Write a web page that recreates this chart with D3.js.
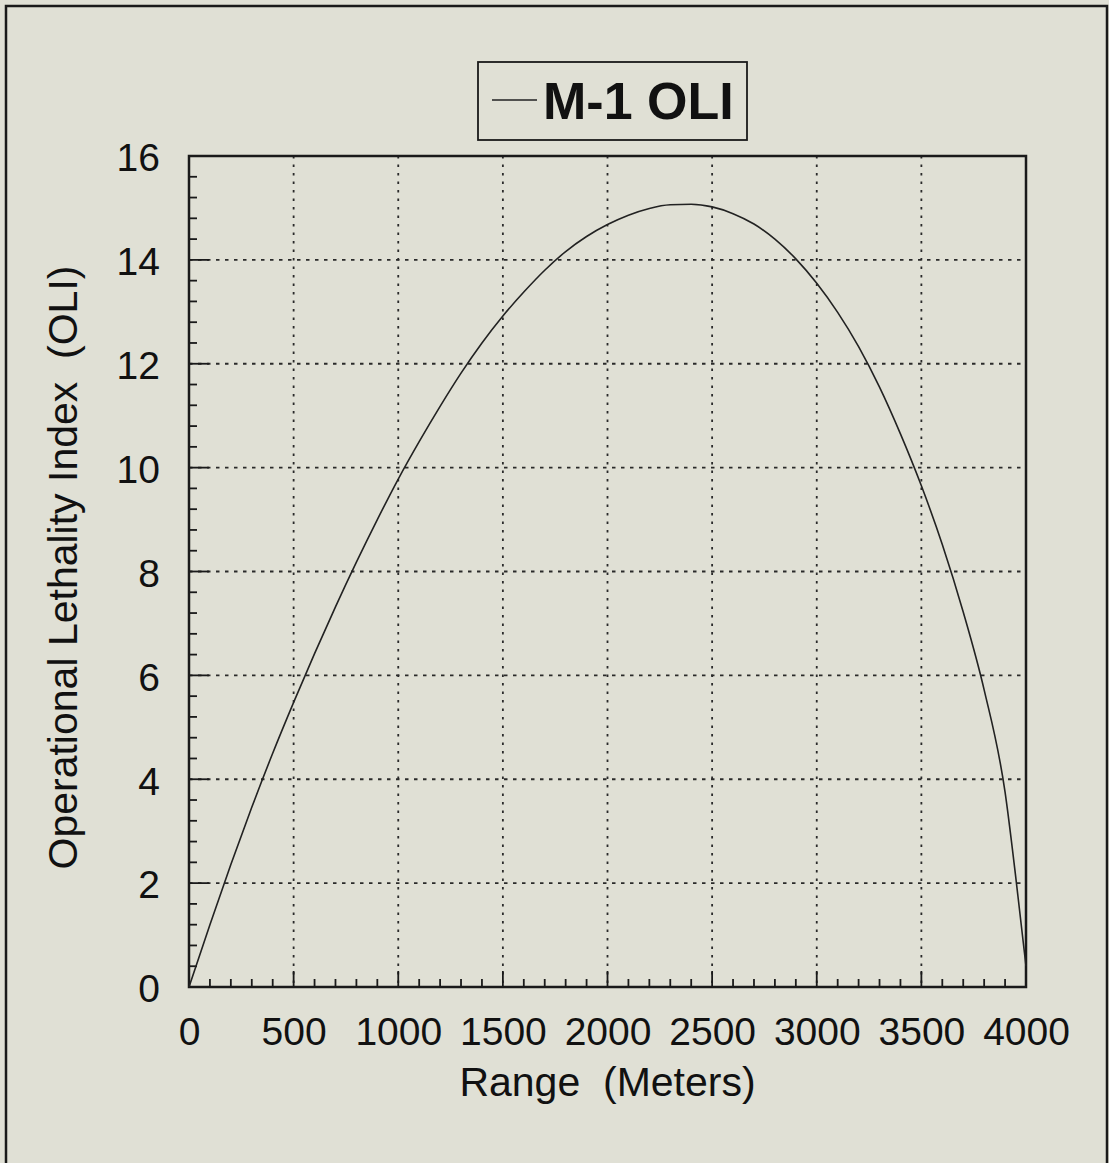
<!DOCTYPE html>
<html>
<head>
<meta charset="utf-8">
<script src="https://cdn.jsdelivr.net/npm/d3@7"></script>
<style>
  html, body { margin: 0; padding: 0; background: #e0e0d5; }
  svg { display: block; }
  text { font-family: "Liberation Sans", Arial, Helvetica, sans-serif; fill: #111; }
</style>
</head>
<body>
<svg id="chart" width="1109" height="1163"></svg>
<script>
// ---- data ----
const rangeMeters = [0, 100, 200, 300, 400, 500, 600, 700, 800, 900, 1000, 1100, 1200, 1300, 1400,
  1500, 1600, 1700, 1800, 1900, 2000, 2100, 2200, 2300, 2400, 2500, 2600, 2700, 2800, 2900,
  3000, 3100, 3200, 3300, 3400, 3500, 3600, 3700, 3800, 3900, 3950, 4000];
const oliValues = [0, 1.2, 2.36, 3.46, 4.5, 5.48, 6.42, 7.32, 8.18, 9.0, 9.78, 10.5, 11.18, 11.82, 12.4,
  12.92, 13.38, 13.8, 14.16, 14.45, 14.68, 14.86, 14.99, 15.06, 15.07, 15.02, 14.89, 14.69, 14.4, 14.02,
  13.55, 12.99, 12.33, 11.55, 10.65, 9.65, 8.52, 7.22, 5.72, 3.75, 2.15, 0.4];
const xTicks = [0, 500, 1000, 1500, 2000, 2500, 3000, 3500, 4000];
const yTicks = [0, 2, 4, 6, 8, 10, 12, 14, 16];
const seriesName = "M-1 OLI";
const xTitle = "Range\u00A0\u00A0(Meters)";
const yTitle = "Operational Lethality Index\u00A0\u00A0(OLI)";

// ---- layout ----
const svg = d3.select("#chart");
const plot = { left: 189, right: 1026, top: 156, bottom: 987 };
const ink = "#1a1a1a";

svg.append("rect").attr("x", 0).attr("y", 0).attr("width", 1109).attr("height", 1163).attr("fill", "#e0e0d5");
// outer frame
svg.append("rect").attr("x", 6).attr("y", 6).attr("width", 1101).attr("height", 1170)
  .attr("fill", "none").attr("stroke", ink).attr("stroke-width", 2.5);

const x = d3.scaleLinear().domain([0, 4000]).range([plot.left, plot.right]);
const y = d3.scaleLinear().domain([0, 16]).range([plot.bottom, plot.top]);

// grid lines (dotted)
const grid = svg.append("g");
grid.selectAll("line.vg").data(xTicks.slice(1, -1)).enter().append("line")
  .attr("x1", d => x(d)).attr("x2", d => x(d))
  .attr("y1", plot.top).attr("y2", plot.bottom)
  .attr("stroke", "#2a2a2a").attr("stroke-width", 1.8).attr("stroke-dasharray", "2.5,6");
grid.selectAll("line.hg").data(yTicks.slice(1, -1)).enter().append("line")
  .attr("x1", plot.left).attr("x2", plot.right)
  .attr("y1", d => y(d)).attr("y2", d => y(d))
  .attr("stroke", "#2a2a2a").attr("stroke-width", 1.8).attr("stroke-dasharray", "3.5,5.5");

// minor & major ticks (inside)
const xMinor = d3.range(100, 4000, 100).filter(v => v % 500 !== 0);
const yMinor = d3.range(0.4, 16, 0.4).filter(v => Math.abs(v / 2 - Math.round(v / 2)) > 0.01);
const ticks = svg.append("g").attr("stroke", ink).attr("stroke-width", 1.8);
ticks.selectAll("line.xm").data(xMinor).enter().append("line")
  .attr("x1", d => x(d)).attr("x2", d => x(d)).attr("y1", plot.bottom).attr("y2", plot.bottom - 8);
ticks.selectAll("line.xM").data(xTicks.slice(1, -1)).enter().append("line")
  .attr("x1", d => x(d)).attr("x2", d => x(d)).attr("y1", plot.bottom).attr("y2", plot.bottom - 16);
ticks.selectAll("line.ym").data(yMinor).enter().append("line")
  .attr("x1", plot.left).attr("x2", plot.left + 8).attr("y1", d => y(d)).attr("y2", d => y(d));
ticks.selectAll("line.yM").data(yTicks.slice(1, -1)).enter().append("line")
  .attr("x1", plot.left).attr("x2", plot.left + 20).attr("y1", d => y(d)).attr("y2", d => y(d));

// plot frame
svg.append("rect").attr("x", plot.left).attr("y", plot.top)
  .attr("width", plot.right - plot.left).attr("height", plot.bottom - plot.top)
  .attr("fill", "none").attr("stroke", ink).attr("stroke-width", 2.5);

// axes labels via d3 axes (tick lines hidden)
const xAxis = d3.axisBottom(x).tickValues(xTicks).tickSize(0).tickPadding(0).tickFormat(d3.format("d"));
const gx = svg.append("g").attr("transform", `translate(0,${plot.bottom})`).call(xAxis);
gx.select(".domain").remove();
gx.selectAll("text").attr("font-size", 39).attr("y", 58).attr("dy", 0)
  .attr("font-family", "Liberation Sans, Arial, sans-serif").attr("fill", "#111");

const yAxis = d3.axisLeft(y).tickValues(yTicks).tickSize(0).tickPadding(0).tickFormat(d3.format("d"));
const gy = svg.append("g").attr("transform", `translate(${plot.left},0)`).call(yAxis);
gy.select(".domain").remove();
gy.selectAll("text").attr("font-size", 39).attr("x", -29).attr("dy", "0.38em")
  .attr("font-family", "Liberation Sans, Arial, sans-serif").attr("fill", "#111");

// curve
const pts = rangeMeters.map((r, i) => [r, oliValues[i]]);
svg.append("path").datum(pts)
  .attr("fill", "none").attr("stroke", "#222").attr("stroke-width", 1.6)
  .attr("d", d3.line().x(d => x(d[0])).y(d => y(d[1])).curve(d3.curveMonotoneX));

// axis titles
svg.append("text").attr("x", (plot.left + plot.right) / 2).attr("y", 1096)
  .attr("text-anchor", "middle").attr("font-size", 41).text(xTitle);
svg.append("text").attr("transform", `translate(77,${(plot.top + plot.bottom) / 2 - 4}) rotate(-90)`)
  .attr("text-anchor", "middle").attr("font-size", 41).text(yTitle);

// legend
const lg = svg.append("g");
lg.append("rect").attr("x", 478).attr("y", 62).attr("width", 269).attr("height", 78)
  .attr("fill", "none").attr("stroke", ink).attr("stroke-width", 1.8);
lg.append("line").attr("x1", 492).attr("x2", 537).attr("y1", 100).attr("y2", 100)
  .attr("stroke", "#222").attr("stroke-width", 1.6);
lg.append("text").attr("x", 543).attr("y", 119).attr("font-size", 52).attr("font-weight", "bold")
  .text(seriesName);
</script>
</body>
</html>
